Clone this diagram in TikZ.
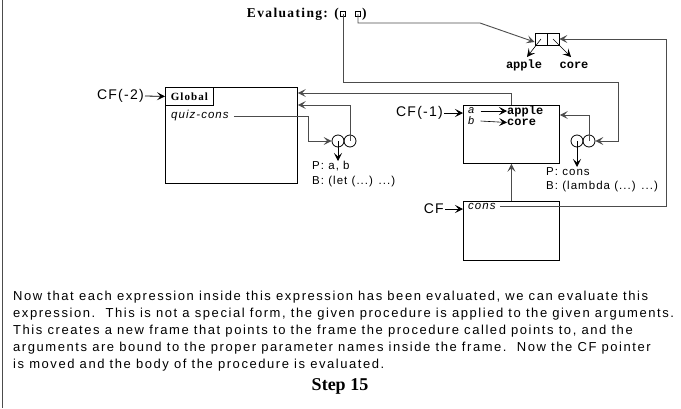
\documentclass[tikz,border=0pt]{standalone}
\usepackage{fontspec}
\setmainfont{Liberation Sans}
\setmonofont{Liberation Mono}
\newfontfamily\sansfnt[LetterSpace=9]{Liberation Sans}
\newfontfamily\bodyfnt[LetterSpace=12]{Liberation Sans}
\newfontfamily\timesfnt[LetterSpace=10]{Liberation Serif}
\newfontfamily\timesplain{Liberation Serif}
\usetikzlibrary{arrows.meta}

\begin{document}
\begin{tikzpicture}[
  x=1pt, y=-1pt,
  >={Stealth[length=8pt,width=8pt,inset=3.5pt]},
  wire/.style={draw=black!70, line width=0.9pt},
  frame/.style={draw, line width=0.8pt, anchor=north west, inner sep=0pt},
  cell/.style={draw, line width=0.8pt, minimum size=12pt, inner sep=0pt},
  dot/.style={draw, circle, line width=0.8pt, minimum size=12pt, inner sep=0pt},
  tinybox/.style={draw, line width=0.6pt, minimum size=5pt, inner sep=0pt},
  cflbl/.style={font=\sansfnt\fontsize{14}{14}\selectfont, inner sep=1pt, anchor=east},
  varlbl/.style={font=\sansfnt\itshape\fontsize{11}{11}\selectfont, inner sep=0pt, anchor=west},
  atom/.style={font=\ttfamily\bfseries\fontsize{12}{10}\selectfont, inner sep=0pt},
  proclbl/.style={font=\sansfnt\fontsize{11.5}{14.5}\selectfont, align=left, anchor=north west, inner sep=0pt}
]
  \useasboundingbox (0,0) rectangle (681,408);
  \draw[black!70, line width=0.8pt] (2,0) -- (2,408);

  % evaluating line
  \node[font=\timesfnt\bfseries\fontsize{13.5}{13.5}\selectfont, anchor=east, inner sep=0pt] (evtxt) at (339,14) {Evaluating: (};
  \node[tinybox] (sq1) at (343,14) {};
  \node[tinybox] (sq2) at (358,14) {};
  \node[font=\timesfnt\bfseries\fontsize{13.5}{13.5}\selectfont, anchor=west, inner sep=0pt] (evend) at (362,14) {)};

  % the pair
  \node[cell] (pa) at (541,39) {};
  \node[cell] (pd) at (553,39) {};
  \node[atom] (apl) at (524,65) {apple};
  \node[atom] (cor) at (574,65) {core};
  \draw[->, line width=0.6pt] (pa.center) -- (527,57);
  \draw[->, line width=0.6pt] (pd.center) -- (571,57);

  % global frame
  \node[frame, minimum width=132pt, minimum height=96pt] (glob) at (165,87) {};
  \node[draw, line width=0.8pt, anchor=north west, minimum width=48pt, minimum height=18pt, inner sep=0pt,
        font=\timesfnt\bfseries\fontsize{11}{11}\selectfont] (globtag) at (glob.north west) {Global};
  \node[cflbl] (cf2) at (145,96) {CF(-2)};
  \draw[->, line width=0.8pt] (cf2.east) -- (globtag.west);
  \node[varlbl, font=\sansfnt\itshape\fontsize{11.5}{11.5}\selectfont] (qc) at (171,116) {quiz-cons};

  % procedure quiz-cons
  \node[dot] (p1l) at (338,141) {};
  \node[dot] (p1r) at (350,141) {};
  \node[proclbl] (p1txt) at (312,161) {P: a, b\\B: (let (...) ...)};
  \draw[wire, ->] ([xshift=5pt]qc.east) -- (308,116) |- (p1l.west);
  \draw[->, line width=0.8pt] (p1l.center) -- (p1l.center |- p1txt.north);
  \draw[wire, ->] (p1r.center) |- ([yshift=-18pt]glob.north east);

  % frame E1
  \node[frame, minimum width=96pt, minimum height=58pt] (fr1) at (463,105) {};
  \node[cflbl] (cf1) at (444,113) {CF(-1)};
  \draw[->, line width=0.8pt] (cf1.east) -- (fr1.west |- cf1.east);
  \node[varlbl] (va) at (468,111) {a};
  \node[varlbl] (vb) at (468,121) {b};
  \node[atom, anchor=west] (va1) at (507,111) {apple};
  \node[atom, anchor=west] (vb1) at (507,122.5) {core};
  \draw[->, line width=0.6pt] ([xshift=6pt]va.east) -- (va1.west);
  \draw[->, line width=0.6pt] ([xshift=6pt]vb.east) -- (vb1.west);
  \draw[wire, ->] (fr1.north) |- ([yshift=-6pt]glob.north east);

  % procedure cons
  \node[dot] (p2l) at (577,141) {};
  \node[dot] (p2r) at (589,141) {};
  \node[proclbl] (p2txt) at (546,167) {P: cons\\B: (lambda (...) ...)};
  \draw[->, line width=0.8pt] (p2l.center) -- (p2l.center |- p2txt.north);
  \draw[wire, ->] (p2r.center) |- ([yshift=-10pt]fr1.north east);

  % frame E2
  \node[frame, minimum width=96pt, minimum height=59pt] (fr2) at (463,201) {};
  \node[cflbl] (cf0) at (445,209) {CF};
  \draw[->, line width=0.8pt] (cf0.east) -- (fr2.west |- cf0.east);
  \node[varlbl, font=\sansfnt\itshape\fontsize{11.5}{11.5}\selectfont] (vc) at (468,206) {cons};
  \draw[wire, ->] (fr2.north) -- (fr1.south);

  % pointers
  \coordinate (evbend) at (618,82);
  \coordinate (consbend) at (666,206);
  \draw[wire, ->] (sq1.center) |- (evbend) |- (p2r.east);
  \draw[wire, ->] (sq2.center) |- (480,23) -- ([yshift=-3pt]pa.west);
  \draw[wire, ->] ([xshift=4pt]vc.east) -- (vc.east -| consbend) |- (pd.east);

  % explanation
  \node[font=\bodyfnt\fontsize{13}{17}\selectfont, align=left, anchor=north west, inner sep=0pt] (expl) at (13,291)
    {Now that each expression inside this expression has been evaluated, we can evaluate this\\
     expression.\ \ This is not a special form, the given procedure is applied to the given arguments.\\
     This creates a new frame that points to the frame the procedure called points to, and the\\
     arguments are bound to the proper parameter names inside the frame.\ \ Now the CF pointer\\
     is moved and the body of the procedure is evaluated.};
  \node[font=\timesplain\bfseries\fontsize{18}{18}\selectfont, inner sep=0pt] (step) at (340,386) {Step 15};
\end{tikzpicture}
\end{document}
